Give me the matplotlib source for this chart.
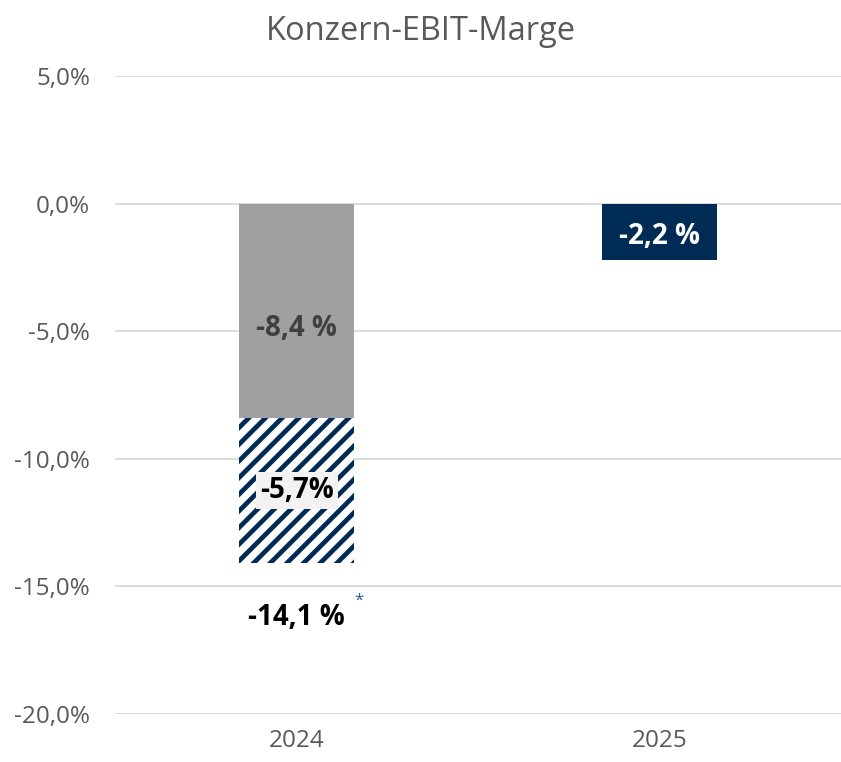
import numpy as np
import matplotlib.pyplot as plt

plt.rcParams['font.family'] = ['Open Sans', 'DejaVu Sans']
plt.rcParams['hatch.linewidth'] = 3.4

years = ["2024", "2025"]
ebit_margin = [-8.4, -2.2]
special_items = [-5.7, 0.0]
total_2024 = -14.1
yticks = [5, 0, -5, -10, -15, -20]

navy = "#002B55"
grey = "#A0A0A0"
plt.rcParams['hatch.color'] = navy

fig = plt.figure(figsize=(8.41, 7.62), dpi=100)
ax = fig.add_axes([0.137, 0.063, 0.863, 0.837])

x = np.arange(len(years))
w = 0.317
ax.bar(x[0], ebit_margin[0], w, color=grey, zorder=2)
ax.bar(x[0], special_items[0], w, bottom=ebit_margin[0], color="white",
       edgecolor=navy, linewidth=0, hatch="//", zorder=2)
ax.bar(x[1], ebit_margin[1], w, color=navy, zorder=2)

def fmt(v):
    return f"{v:.1f}".replace(".", ",") + " %"

ax.text(x[0], -4.9, fmt(ebit_margin[0]), ha="center", va="center",
        fontsize=20, fontweight="bold", color="#404040", zorder=3)
ax.text(x[0], ebit_margin[0] + special_items[0] / 2,
        fmt(special_items[0]).replace(" ", ""), ha="center", va="center",
        fontsize=20, fontweight="bold", color="black", zorder=3,
        bbox=dict(boxstyle="square,pad=0.15", fc="#F2F2F2", ec="none"))
ax.text(x[0], total_2024 - 2.1, fmt(total_2024), ha="center", va="center",
        fontsize=20, fontweight="bold", color="black")
ax.text(x[0] + 0.17, total_2024 - 1.45, "*", ha="center", va="center",
        fontsize=12, color="#2E5E95")
ax.text(x[1], -1.3, fmt(ebit_margin[1]), ha="center", va="center",
        fontsize=20, fontweight="bold", color="white", zorder=3)

ax.set_xlim(-0.5, 1.5)
ax.set_ylim(-20, 5)
ax.set_yticks(yticks)
ax.set_yticklabels([f"{v:.1f}".replace(".", ",") + "%" for v in yticks])
ax.set_xticks(x)
ax.set_xticklabels(years)
ax.yaxis.grid(True, color="#D9D9D9", linewidth=1.3, zorder=0)
ax.set_axisbelow(True)
ax.tick_params(length=0, labelsize=17.5, labelcolor="#595959", pad=18)
ax.tick_params(axis="x", pad=11)
for s in ax.spines.values():
    s.set_visible(False)

fig.suptitle("Konzern-EBIT-Marge", y=0.98, fontsize=23.5, color="#595959")

fig.savefig("out.png", dpi=100)
